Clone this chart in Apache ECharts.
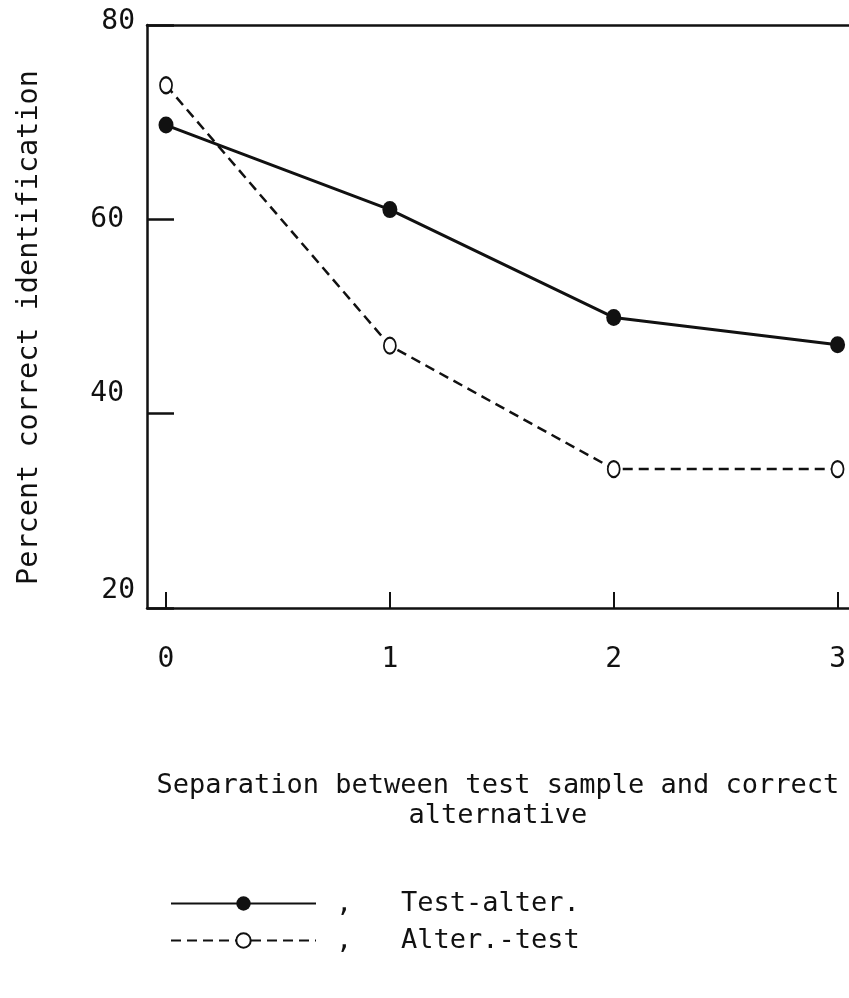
<!DOCTYPE html>
<html>
<head>
<meta charset="utf-8">
<script src="https://cdn.jsdelivr.net/npm/echarts@6/dist/echarts.min.js"></script>
<style>
html,body{margin:0;padding:0;background:#fff;}
#chart{width:849px;height:998px;}
</style>
</head>
<body>
<div id="chart"></div>
<script>
// ---- data ----
const separation = [0, 1, 2, 3];
const testAlter = [69.7, 61.0, 49.9, 47.1];   // solid, filled dots
const alterTest = [73.8, 47.0, 34.3, 34.3];   // dashed, open circles
const xTicks = [0, 1, 2, 3];
const yTicks = [20, 40, 60, 80];
const seriesNames = ['Test-alter.', 'Alter.-test'];
const xTitle = 'Separation between test sample and correct\nalternative';
const yTitle = 'Percent correct identification';

const FONT = 'DejaVu Sans Mono';
const INK = '#111';

const chart = echarts.init(document.getElementById('chart'), null, {renderer: 'canvas'});

const yRich = {
  y80: {padding: [0, 0, 6, 0]},
  y60: {padding: [0, 11, 0, 0]},
  y40: {padding: [0, 11, 40, 0]},
  y20: {padding: [0, 0, 34, 0]}
};

const option = {
  backgroundColor: '#fff',
  animation: false,
  textStyle: {fontFamily: FONT, color: INK},
  grid: {left: 147, right: 0, top: 25, bottom: 390, containLabel: false},
  legend: {
    orient: 'vertical',
    left: 165,
    top: 885,
    itemWidth: 145,
    itemHeight: 18,
    itemGap: 10,
    selectedMode: false,
    data: seriesNames,
    formatter: function (name) { return ',   ' + name; },
    textStyle: {fontFamily: FONT, fontSize: 27, color: INK, lineHeight: 18, padding: [0, 0, 0, 15]}
  },
  xAxis: [{
    type: 'value',
    min: -0.085,
    max: 3.05,
    splitLine: {show: false},
    axisLine: {show: true, onZero: false, lineStyle: {color: INK, width: 2.5}},
    axisTick: {show: true, inside: true, length: 16, customValues: xTicks, lineStyle: {color: INK, width: 2}},
    axisLabel: {show: true, customValues: xTicks, margin: 38, fontFamily: FONT, fontSize: 28, color: INK},
    name: xTitle,
    nameLocation: 'middle',
    nameGap: 163,
    nameTextStyle: {fontFamily: FONT, fontSize: 27, color: INK, lineHeight: 30, align: 'center'}
  }, {
    type: 'value',
    position: 'top',
    min: -0.085,
    max: 3.05,
    splitLine: {show: false},
    axisLine: {show: true, onZero: false, lineStyle: {color: INK, width: 2.5}},
    axisTick: {show: false},
    axisLabel: {show: false}
  }],
  yAxis: {
    type: 'value',
    min: 20,
    max: 80,
    interval: 20,
    splitLine: {show: false},
    axisLine: {show: true, onZero: false, lineStyle: {color: INK, width: 2.5}},
    axisTick: {show: true, inside: true, length: 27, lineStyle: {color: INK, width: 2.5}},
    axisLabel: {
      margin: 12,
      fontFamily: FONT,
      fontSize: 28,
      color: INK,
      formatter: function (v) { return '{y' + v + '|' + v + '}'; },
      rich: yRich
    },
    name: yTitle,
    nameLocation: 'middle',
    nameRotate: 90,
    nameGap: 103,
    nameTextStyle: {fontFamily: FONT, fontSize: 28.5, color: INK, padding: [0, 22, 0, 0]}
  },
  series: [{
    name: seriesNames[0],
    type: 'line',
    data: separation.map((x, i) => [x, testAlter[i]]),
    symbol: 'circle',
    symbolSize: [15, 17],
    lineStyle: {color: INK, width: 3, type: 'solid'},
    itemStyle: {color: INK},
    z: 3
  }, {
    name: seriesNames[1],
    type: 'line',
    data: separation.map((x, i) => [x, alterTest[i]]),
    symbol: 'emptyCircle',
    symbolSize: [12, 16],
    lineStyle: {color: INK, width: 2.5, type: [10, 6]},
    itemStyle: {color: INK, borderColor: INK, borderWidth: 2},
    z: 2
  }]
};

chart.setOption(option);
</script>
</body>
</html>
